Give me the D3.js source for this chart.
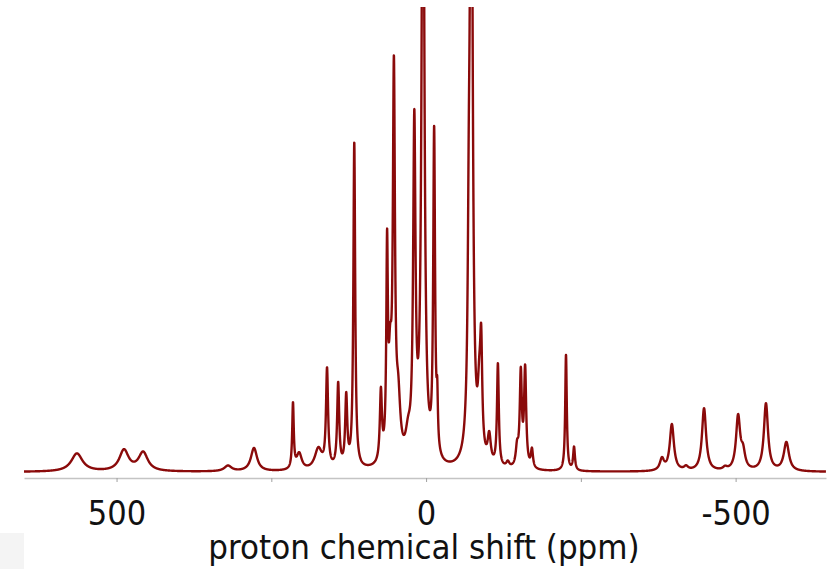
<!DOCTYPE html>
<html>
<head>
<meta charset="utf-8">
<script src="https://cdn.jsdelivr.net/npm/d3@7"></script>
<style>
    html, body { margin: 0; padding: 0; background: #fff; }
    svg { display: block; }
    .lbl { font-family: "DejaVu Sans Condensed", "DejaVu Sans", sans-serif; font-stretch: condensed; }
</style>
</head>
<body>
<div id="chart"></div>
<script>
// peak positions (ppm), heights (% of plot height) and line widths (ppm, FWHM)
var peakShift = [564, 488, 457, 320, 278, 215, 205, 174, 160, 142, 129, 116,
    73, 63, 58, 52, 45, 29, 19, 5, -13, -18,
    -69, -73, -86, -89, -102, -116, -132, -147, -153, -160, -171,
    -226, -239, -381, -397, -420, -449, -483, -504, -512, -549, -582];
var peakHeight = [3.9, 4.5, 4.0, 1.2, 5.0, 14, 3.5, 4.5, 21, 18, 15, 70,
    15, 43, 18, 81, 12, 5, 71, 160, 70, 10,
    30, 160, 12, 21, 6, 22, 1.2, 4, 20, 21, 4,
    25, 5, 2.5, 10, 0.8, 13.5, 0.6, 11.5, 3.5, 14.5, 6.2];
var peakWidth = [22, 18, 18, 14, 12, 3, 10, 14, 4, 4, 4, 3.5,
    4, 3, 6, 4, 8, 10, 4.5, 5, 3.5, 2.5,
    4, 5, 6, 4, 6, 3.5, 6, 5, 4, 4, 4,
    3, 3.5, 8, 8, 8, 8, 8, 8, 8, 8, 10];

var tickValues = [500, 250, 0, -250, -500];
var tickLabels = ['500', '', '0', '', '-500'];
var axisTitle = 'proton chemical shift (ppm)';

var width = 836;
var height = 569;

var svg = d3.select('#chart')
    .append('svg')
    .attr('width', width)
    .attr('height', height);

var x = d3.scaleLinear()
    .domain([649.5, -646])
    .range([24, 826]);

var y = d3.scaleLinear()
    .domain([0, 100])
    .range([472, 7]);

// spectrum = sum of lorentzian lines
function intensity(ppm) {
    var s = 0;
    for (var i = 0; i < peakShift.length; i++) {
        var g = peakWidth[i] / 2;
        var d = ppm - peakShift[i];
        s += peakHeight[i] * g * g / (d * d + g * g);
    }
    return s;
}

var grid = d3.range(649.5, -646, -0.2);
var spectrum = grid.map(function (p) {
    return [p, intensity(p)];
});

svg.append('rect')
    .attr('x', 0)
    .attr('y', 533)
    .attr('width', 24)
    .attr('height', height - 533)
    .attr('fill', '#f4f4f4');

svg.append('clipPath')
    .attr('id', 'plot-clip')
    .append('rect')
    .attr('x', 0)
    .attr('y', 7)
    .attr('width', width)
    .attr('height', 480);

// axis
var axis = d3.axisBottom(x)
    .tickValues(tickValues)
    .tickSize(4)
    .tickSizeOuter(0)
    .tickFormat(function (d, i) { return tickLabels[i]; });

var ax = svg.append('g')
    .attr('transform', 'translate(0,478)')
    .call(axis);

ax.select('.domain')
    .attr('stroke', '#c4c4c4')
    .attr('stroke-width', 1.5);

ax.selectAll('.tick line')
    .attr('stroke', '#a0a0a0');

ax.selectAll('.tick text')
    .attr('class', 'lbl')
    .attr('y', 47)
    .attr('dy', 0)
    .attr('fill', '#111')
    .style('font-size', '34px');

svg.append('text')
    .attr('class', 'lbl')
    .attr('x', 424)
    .attr('y', 559)
    .attr('text-anchor', 'middle')
    .attr('fill', '#111')
    .style('font-size', '34.5px')
    .text(axisTitle);

var line = d3.line()
    .x(function (d) { return x(d[0]); })
    .y(function (d) { return y(d[1]); });

svg.append('path')
    .datum(spectrum)
    .attr('clip-path', 'url(#plot-clip)')
    .attr('d', line)
    .attr('fill', 'none')
    .attr('stroke', '#8a0a0a')
    .attr('stroke-width', 2.4)
    .attr('stroke-linejoin', 'round');
</script>
</body>
</html>
